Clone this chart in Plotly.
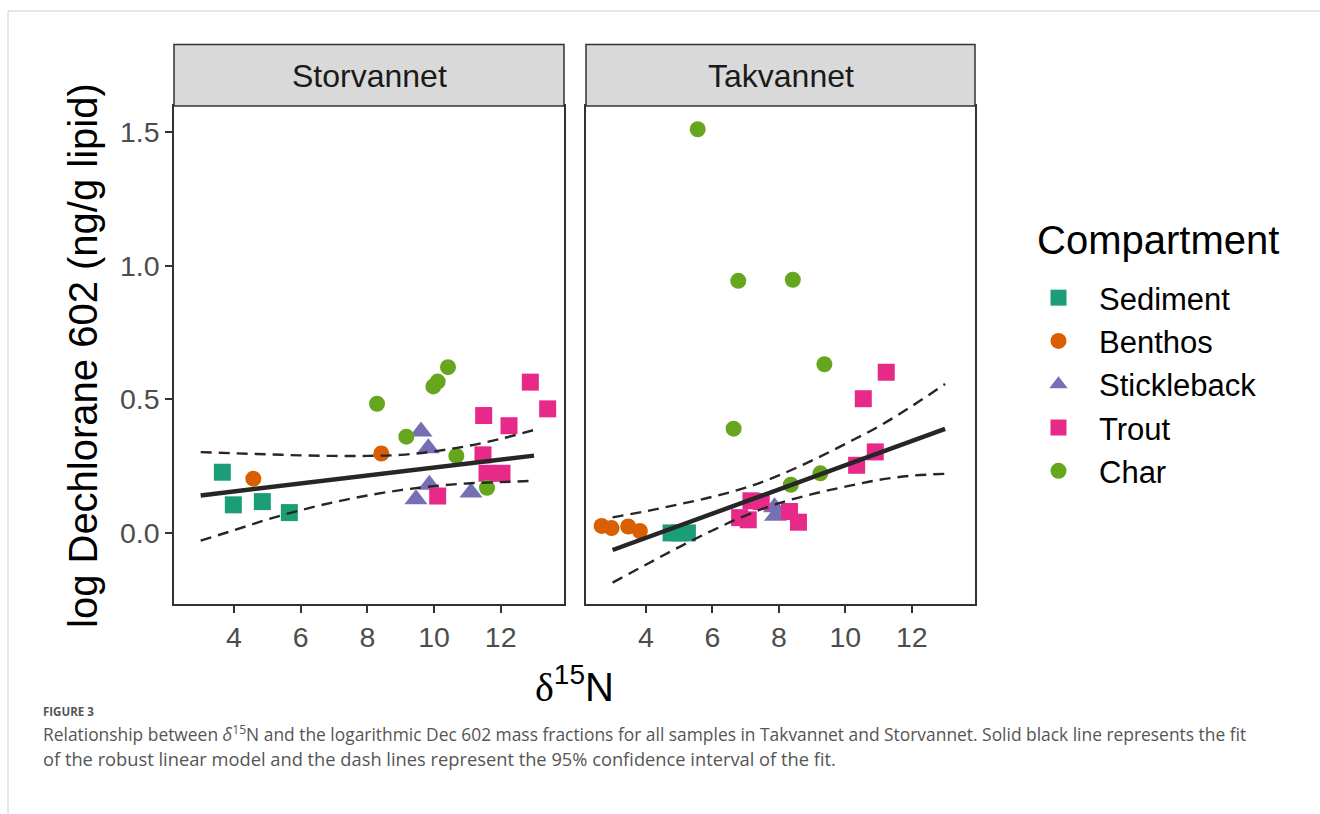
import plotly.graph_objects as go

W, H = 1320, 814

# ---------------- data ----------------
groups = ["Sediment", "Benthos", "Stickleback", "Trout", "Char"]
group_colors = ["#1B9E77", "#D95F02", "#7570B3", "#E7298A", "#66A61E"]
group_symbols = ["square", "circle", "triangle-up", "square", "circle"]

# Storvannet
sto_sediment_x = [3.65, 3.98, 4.85, 5.66]
sto_sediment_y = [0.227, 0.105, 0.117, 0.076]
sto_benthos_x = [4.58, 8.42]
sto_benthos_y = [0.203, 0.297]
sto_stickleback_x = [9.61, 9.83, 9.86, 9.46, 11.11]
sto_stickleback_y = [0.379, 0.317, 0.180, 0.126, 0.151]
sto_trout_x = [10.11, 11.49, 12.89, 13.41, 12.25, 11.47, 11.59, 12.04]
sto_trout_y = [0.138, 0.439, 0.564, 0.464, 0.401, 0.292, 0.223, 0.223]
sto_char_x = [8.29, 9.17, 9.98, 10.11, 10.42, 10.67, 11.59]
sto_char_y = [0.483, 0.360, 0.548, 0.566, 0.620, 0.288, 0.169]

# Takvannet
tak_sediment_x = [4.76, 5.0, 5.25]
tak_sediment_y = [0.0, 0.0, 0.0]
tak_benthos_x = [2.67, 2.97, 3.47, 3.82]
tak_benthos_y = [0.026, 0.018, 0.024, 0.007]
tak_stickleback_x = [7.87, 7.90]
tak_stickleback_y = [0.096, 0.064]
tak_trout_x = [11.23, 10.54, 10.90, 10.34, 7.16, 7.47, 6.82, 7.08, 8.32, 8.59]
tak_trout_y = [0.601, 0.502, 0.303, 0.253, 0.120, 0.117, 0.057, 0.049, 0.080, 0.040]
tak_char_x = [5.56, 6.78, 8.42, 9.37, 6.64, 9.25, 8.36]
tak_char_y = [1.510, 0.943, 0.947, 0.631, 0.390, 0.223, 0.180]

# robust linear fits and 95% confidence bands
fit_x = [3, 13]
sto_fit_y = [0.140, 0.289]
tak_fit_y = [-0.064, 0.389]
band_x = [3, 4, 5, 6, 7, 8, 9, 10, 11, 12, 13]
sto_upper = [0.302, 0.298, 0.294, 0.290, 0.288, 0.288, 0.292, 0.305, 0.325, 0.352, 0.385]
sto_lower = [-0.029, 0.010, 0.050, 0.085, 0.115, 0.140, 0.160, 0.175, 0.185, 0.190, 0.195]
tak_upper = [0.058, 0.081, 0.107, 0.135, 0.169, 0.215, 0.271, 0.333, 0.398, 0.474, 0.557]
tak_lower = [-0.186, -0.119, -0.053, 0.009, 0.065, 0.111, 0.145, 0.173, 0.198, 0.214, 0.221]

x_ticks = [4, 6, 8, 10, 12]
y_ticks = [0.0, 0.5, 1.0, 1.5]
y_ticktext = ["0.0", "0.5", "1.0", "1.5"]

# ---------------- figure ----------------
FONT = "Liberation Sans, Arial, sans-serif"
sizes = {"square": 17, "circle": 16, "triangle-up": 20}

sto_sets = [(sto_sediment_x, sto_sediment_y), (sto_benthos_x, sto_benthos_y),
            (sto_stickleback_x, sto_stickleback_y), (sto_trout_x, sto_trout_y),
            (sto_char_x, sto_char_y)]
tak_sets = [(tak_sediment_x, tak_sediment_y), (tak_benthos_x, tak_benthos_y),
            (tak_stickleback_x, tak_stickleback_y), (tak_trout_x, tak_trout_y),
            (tak_char_x, tak_char_y)]

fig = go.Figure()
for panel, (sets, xa, ya) in enumerate([(sto_sets, "x", "y"), (tak_sets, "x2", "y2")]):
    for g, col, sym, (xs, ys) in zip(groups, group_colors, group_symbols, sets):
        fig.add_trace(go.Scatter(
            x=xs, y=ys, mode="markers", name=g, legendgroup=g,
            showlegend=(panel == 0), xaxis=xa, yaxis=ya,
            marker=dict(color=col, symbol=sym, size=sizes[sym], line=dict(width=0)),
        ))

for fy, up, lo, xa, ya in [(sto_fit_y, sto_upper, sto_lower, "x", "y"),
                           (tak_fit_y, tak_upper, tak_lower, "x2", "y2")]:
    for by in (up, lo):
        fig.add_trace(go.Scatter(
            x=band_x, y=by, mode="lines", showlegend=False, xaxis=xa, yaxis=ya,
            line=dict(color="#262626", width=2.4, dash="11px,7px", shape="spline"),
            hoverinfo="skip"))
    fig.add_trace(go.Scatter(
        x=fit_x, y=fy, mode="lines", showlegend=False, xaxis=xa, yaxis=ya,
        line=dict(color="#262626", width=4.5), hoverinfo="skip"))

P1 = (174, 564)
P2 = (586, 975)
TOP, BOT = 106, 604
STRIP_TOP = 44.5

axis_common = dict(
    showline=True, mirror=True, linecolor="#333333", linewidth=1.5,
    showgrid=False, zeroline=False, ticks="outside", ticklen=7, tickwidth=1.5,
    tickcolor="#333333", tickfont=dict(family=FONT, size=28.5, color="#4D4D4D"),
)

fig.update_layout(
    width=W, height=H, margin=dict(l=0, r=0, t=0, b=0),
    paper_bgcolor="white", plot_bgcolor="white",
    xaxis=dict(domain=[P1[0] / W, P1[1] / W], range=[2.2, 13.9], tickvals=x_ticks,
               anchor="y", **axis_common),
    yaxis=dict(domain=[1 - BOT / H, 1 - TOP / H], range=[-0.266, 1.597], tickvals=y_ticks,
               ticktext=y_ticktext, anchor="x", **axis_common),
    xaxis2=dict(domain=[P2[0] / W, P2[1] / W], range=[2.2, 13.9], tickvals=x_ticks,
                anchor="y2", **axis_common),
    yaxis2=dict(domain=[1 - BOT / H, 1 - TOP / H], range=[-0.266, 1.597], tickvals=y_ticks,
                anchor="x2", matches="y", **{**axis_common, "ticks": "", "showticklabels": False}),
    legend=dict(
        font=dict(family=FONT, size=31, color="black"),
        x=1018 / W, y=1 - 271 / H, xanchor="left", yanchor="top",
        bgcolor="rgba(0,0,0,0)", tracegroupgap=0, itemsizing="trace", itemwidth=71,
    ),
    showlegend=True,
)

shapes = []
annotations = []
for (x0, x1), name in [(P1, "Storvannet"), (P2, "Takvannet")]:
    shapes.append(dict(type="rect", xref="paper", yref="paper",
                       x0=x0 / W, x1=x1 / W, y0=1 - TOP / H, y1=1 - STRIP_TOP / H,
                       fillcolor="#D9D9D9", line=dict(color="#333333", width=1.5), layer="above"))
    annotations.append(dict(text=name, xref="paper", yref="paper",
                            x=(x0 + x1) / 2 / W, y=1 - 76 / H, xanchor="center", yanchor="middle",
                            showarrow=False, font=dict(family=FONT, size=32, color="#1A1A1A")))

# legend title
annotations.append(dict(text="Compartment", xref="paper", yref="paper",
                        x=1035 / W, y=1 - 240 / H, xanchor="left", yanchor="middle",
                        showarrow=False, font=dict(family=FONT, size=40, color="black")))

# page frame lines
shapes.append(dict(type="line", xref="paper", yref="paper", x0=8 / W, x1=1, y0=1 - 11 / H, y1=1 - 11 / H,
                   line=dict(color="#D0D0D0", width=1)))
shapes.append(dict(type="line", xref="paper", yref="paper", x0=8 / W, x1=8 / W, y0=0, y1=1 - 11 / H,
                   line=dict(color="#D0D0D0", width=1)))

annotations.append(dict(text="log Dechlorane 602 (ng/g lipid)", xref="paper", yref="paper",
                        x=83 / W, y=1 - 356 / H, xanchor="center", yanchor="middle", textangle=-90,
                        showarrow=False, font=dict(family=FONT, size=40, color="black")))
annotations.append(dict(text="<span style=\"font-family:'Liberation Serif'\">δ</span><sup>15</sup>N",
                        xref="paper", yref="paper",
                        x=574 / W, y=1 - 684 / H, xanchor="center", yanchor="middle",
                        showarrow=False, font=dict(family=FONT, size=40, color="black")))

CAP = "Open Sans, sans-serif"
annotations.append(dict(text="<b>FIGURE 3</b>", xref="paper", yref="paper",
                        x=41 / W, y=1 - 711 / H, xanchor="left", yanchor="middle",
                        showarrow=False, font=dict(family=CAP, size=11.5, color="#555555")))
annotations.append(dict(text="Relationship between <i>δ</i><sup>15</sup>N and the logarithmic Dec 602 mass fractions "
                             "for all samples in Takvannet and Storvannet. Solid black line represents the fit",
                        xref="paper", yref="paper",
                        x=41 / W, y=1 - 733 / H, xanchor="left", yanchor="middle",
                        showarrow=False, font=dict(family=CAP, size=17.4, color="#555555")))
annotations.append(dict(text="of the robust linear model and the dash lines represent the 95% confidence interval of the fit.",
                        xref="paper", yref="paper",
                        x=41 / W, y=1 - 758 / H, xanchor="left", yanchor="middle",
                        showarrow=False, font=dict(family=CAP, size=18.3, color="#555555")))

fig.update_layout(shapes=shapes, annotations=annotations)
fig.write_html("out.html")
